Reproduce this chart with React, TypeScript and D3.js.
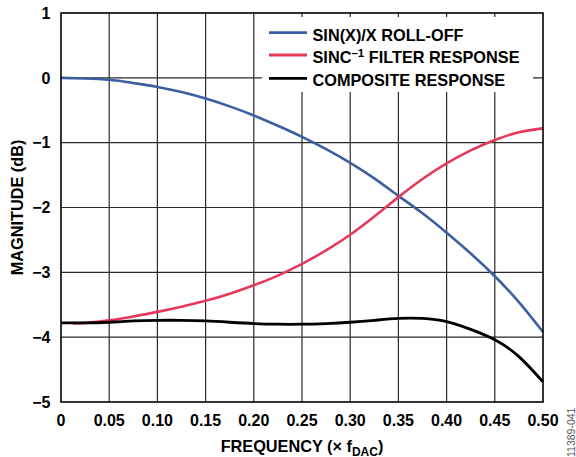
import React from "react";
import * as d3 from "d3";

const freqTicks = [0, 0.05, 0.1, 0.15, 0.2, 0.25, 0.3, 0.35, 0.4, 0.45, 0.5];
const freqTickLabels = ["0", "0.05", "0.10", "0.15", "0.20", "0.25", "0.30", "0.35", "0.40", "0.45", "0.50"];
const magTicks = [1, 0, -1, -2, -3, -4, -5];
const magTickLabels = ["1", "0", "−1", "−2", "−3", "−4", "−5"];

const freqs = [0, 0.025, 0.05, 0.075, 0.1, 0.125, 0.15, 0.175, 0.2, 0.225, 0.25, 0.275, 0.3, 0.325, 0.35, 0.375, 0.4, 0.425, 0.45, 0.475, 0.5];
const sincRollOff = [0, -0.01, -0.03, -0.08, -0.14, -0.22, -0.32, -0.44, -0.58, -0.74, -0.91, -1.1, -1.31, -1.55, -1.82, -2.09, -2.39, -2.71, -3.06, -3.46, -3.92];

const inverseFreqs = [0.0125, 0.025, 0.05, 0.075, 0.1, 0.125, 0.15, 0.175, 0.2, 0.225, 0.25, 0.275, 0.3, 0.325, 0.35, 0.375, 0.4, 0.425, 0.45, 0.475, 0.5];
const inverseSinc = [-3.79, -3.78, -3.74, -3.68, -3.61, -3.53, -3.44, -3.33, -3.2, -3.05, -2.87, -2.66, -2.42, -2.14, -1.84, -1.56, -1.32, -1.12, -0.96, -0.84, -0.78];

const composite = [-3.78, -3.78, -3.77, -3.75, -3.74, -3.74, -3.75, -3.77, -3.79, -3.8, -3.8, -3.79, -3.77, -3.74, -3.71, -3.71, -3.76, -3.88, -4.04, -4.3, -4.69];

const BLUE = "#3c5f9f";
const RED = "#e5395c";
const FONT = "'Liberation Sans', Arial, sans-serif";

export default function App() {
  const W = 576, H = 457;
  const x = d3.scaleLinear().domain([0, 0.5]).range([61, 543]);
  const y = d3.scaleLinear().domain([-5, 1]).range([402, 13]);
  const line = d3
    .line<[number, number]>()
    .x((d) => x(d[0]))
    .y((d) => y(d[1]))
    .curve(d3.curveNatural);

  const blueD = line(freqs.map((f, i) => [f, sincRollOff[i]] as [number, number])) || "";
  const redD = line(inverseFreqs.map((f, i) => [f, inverseSinc[i]] as [number, number])) || "";
  const blackD = line(freqs.map((f, i) => [f, composite[i]] as [number, number])) || "";

  const [x0, x1] = x.range();
  const [y0, y1] = [y(1), y(-5)];

  const legend = [
    { color: BLUE, y: 32.7 },
    { color: RED, y: 55 },
    { color: "#000", y: 78.3 },
  ];

  return (
    <svg
      width={W}
      height={H}
      style={{ position: "absolute", left: 0, top: 0, background: "#fff" }}
      fontFamily={FONT}
    >
      <rect x={0} y={0} width={W} height={H} fill="#fff" />
      {/* grid */}
      {freqTicks.slice(1, -1).map((f) => (
        <line key={"gx" + f} x1={x(f)} x2={x(f)} y1={y0} y2={y1} stroke="#2a2a2a" strokeWidth={1.2} />
      ))}
      {magTicks.slice(1, -1).map((m) => (
        <line key={"gy" + m} x1={x0} x2={x1} y1={y(m)} y2={y(m)} stroke="#2a2a2a" strokeWidth={1.2} />
      ))}
      {/* legend box */}
      <rect x={262} y={17} width={271} height={75} fill="#fff" />
      {legend.map((l, i) => (
        <line key={"ll" + i} x1={269} x2={307} y1={l.y} y2={l.y} stroke={l.color} strokeWidth={2.8} />
      ))}
      <g fontWeight="bold" fontSize={16.3} fill="#000">
        <text x={312.5} y={41}>SIN(X)/X ROLL-OFF</text>
        <text x={312.5} y={63}>
          SINC
          <tspan fontSize={11.5} dy={-6}>–1</tspan>
          <tspan dy={6}> FILTER RESPONSE</tspan>
        </text>
        <text x={312.5} y={85.5}>COMPOSITE RESPONSE</text>
      </g>
      {/* curves */}
      <path d={blueD} fill="none" stroke={BLUE} strokeWidth={2.6} />
      <path d={redD} fill="none" stroke={RED} strokeWidth={2.6} />
      <path d={blackD} fill="none" stroke="#000" strokeWidth={2.8} />
      {/* frame */}
      <rect x={x0} y={y0} width={x1 - x0} height={y1 - y0} fill="none" stroke="#000" strokeWidth={1.6} />
      {/* tick labels */}
      <g fontWeight="bold" fontSize={16} fill="#000">
        {freqTicks.map((f, i) => (
          <text key={"tx" + f} x={x(f)} y={426} textAnchor="middle">
            {freqTickLabels[i]}
          </text>
        ))}
        {magTicks.map((m, i) => (
          <text key={"ty" + m} x={50.5} y={y(m)} dy="0.36em" textAnchor="end">
            {magTickLabels[i]}
          </text>
        ))}
      </g>
      {/* axis titles */}
      <text x={(x0 + x1) / 2} y={451.5} textAnchor="middle" fontWeight="bold" fontSize={16.3}>
        FREQUENCY (× f
        <tspan fontSize={12} dy={4}>DAC</tspan>
        <tspan dy={-4}>)</tspan>
      </text>
      <text
        transform={`translate(22.5,${(y0 + y1) / 2}) rotate(-90)`}
        textAnchor="middle"
        fontWeight="bold"
        fontSize={16.3}
      >
        MAGNITUDE (dB)
      </text>
      <text
        transform="translate(574.5,457) rotate(-90)"
        textAnchor="start"
        fontSize={10.5}
        fill="#555"
      >
        11389-041
      </text>
    </svg>
  );
}
